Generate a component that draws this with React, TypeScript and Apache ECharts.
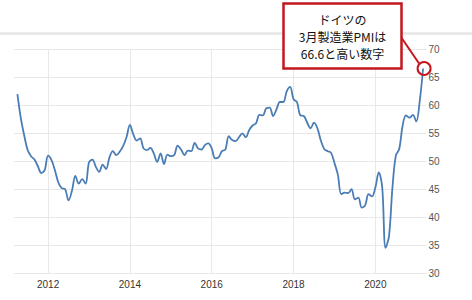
import React, { useEffect, useRef } from 'react';
import * as echarts from 'echarts';

// German manufacturing PMI, monthly, Apr 2011 – Mar 2021
const startYear = 2011;
const startMonth = 4;
const pmi2011 = [62.0, 57.7, 54.6, 52.0, 50.9, 50.3, 49.1, 47.9, 48.4];
const pmi2012 = [51.0, 50.2, 48.4, 46.2, 45.2, 45.0, 43.0, 44.7, 47.4, 46.0, 46.8, 46.0];
const pmi2013 = [49.8, 50.3, 49.0, 48.1, 49.4, 48.6, 50.7, 51.8, 51.1, 51.7, 52.7, 54.3];
const pmi2014 = [56.5, 54.8, 53.7, 54.1, 52.3, 52.0, 52.4, 51.4, 49.9, 51.4, 49.5, 51.2];
const pmi2015 = [50.9, 51.1, 52.8, 52.1, 51.1, 51.9, 51.8, 53.3, 52.3, 52.1, 52.9, 53.2];
const pmi2016 = [52.3, 50.5, 50.7, 51.8, 52.1, 54.5, 53.8, 53.6, 54.3, 55.0, 54.3, 55.6];
const pmi2017 = [56.4, 56.8, 58.3, 58.2, 59.5, 59.6, 58.1, 59.3, 60.6, 60.6, 62.5, 63.3];
const pmi2018 = [61.1, 60.6, 58.2, 58.1, 56.9, 55.9, 56.9, 55.9, 53.7, 52.2, 51.8, 51.5];
const pmi2019 = [49.7, 47.6, 44.1, 44.4, 44.3, 45.0, 43.2, 43.5, 41.7, 42.1, 44.1, 43.7];
const pmi2020 = [45.3, 48.0, 45.4, 34.5, 36.6, 45.2, 51.0, 52.2, 56.4, 58.2, 57.8, 58.3];
const pmi2021 = [57.1, 60.7, 66.6];

const labelYears = ['2012', '2014', '2016', '2018', '2020'];
const yMin = 30;
const yMax = 70;
const yStep = 5;
const annotationLines = ['ドイツの', '3月製造業PMIは', '66.6と高い数字'];

const values: (number | null)[] = [
  ...pmi2011, ...pmi2012, ...pmi2013, ...pmi2014, ...pmi2015, ...pmi2016,
  ...pmi2017, ...pmi2018, ...pmi2019, ...pmi2020, ...pmi2021,
];

function monthKey(offset: number) {
  const total = startYear * 12 + (startMonth - 1) + offset;
  const y = Math.floor(total / 12);
  const m = (total % 12) + 1;
  return `${y}-${m < 10 ? '0' + m : m}`;
}

// one padding month on each side (empty)
const categories: string[] = [];
const seriesData: (number | null)[] = [];
for (let i = -1; i <= values.length; i++) {
  categories.push(monthKey(i));
  seriesData.push(i >= 0 && i < values.length ? values[i] : null);
}

const isYearTick = (value: string) => {
  const [y, m] = value.split('-');
  return m === '01' && labelYears.indexOf(y) >= 0;
};

export default function App() {
  const ref = useRef<HTMLDivElement>(null);
  useEffect(() => {
    if (!ref.current) return;
    const chart = echarts.init(ref.current, undefined, { renderer: 'svg' });
    const axisFont = "'Liberation Sans Narrow', 'Liberation Sans', Arial, sans-serif";
    chart.setOption({
      animation: false,
      backgroundColor: '#ffffff',
      grid: { left: 14, right: 45.5, top: 49.5, bottom: 27, containLabel: false },
      xAxis: {
        type: 'category',
        data: categories,
        boundaryGap: false,
        axisLine: { show: false },
        axisTick: { show: false },
        axisLabel: {
          interval: (_i: number, v: string) => isYearTick(v),
          formatter: (v: string) => v.split('-')[0],
          color: '#333',
          fontSize: 10,
          fontFamily: axisFont,
          margin: 6,
        },
        splitLine: {
          show: true,
          interval: (_i: number, v: string) => isYearTick(v),
          lineStyle: { color: '#e8e8e8', width: 1 },
        },
      },
      yAxis: {
        type: 'value',
        position: 'right',
        min: yMin,
        max: yMax,
        interval: yStep,
        axisLine: { show: false },
        axisTick: { show: false },
        axisLabel: { color: '#555', fontSize: 10, fontFamily: axisFont, margin: 2 },
        splitLine: { lineStyle: { color: '#e8e8e8', width: 1 } },
      },
      series: [
        {
          type: 'line',
          data: seriesData,
          smooth: 0.35,
          showSymbol: false,
          connectNulls: false,
          lineStyle: { color: '#4a7db5', width: 1.8 },
        },
      ],
    });

    const lastIdx = values.length; // index in categories (after padding)
    const pt = chart.convertToPixel({ seriesIndex: 0 }, [lastIdx, values[values.length - 1] as number]) as number[];
    const red = '#c4161c';
    chart.setOption({
      graphic: [
        {
          type: 'line',
          z: 1,
          shape: { x1: 0, y1: 33.5, x2: 472, y2: 33.5 },
          style: { stroke: '#e6e6e6', lineWidth: 2.5 },
        },
        {
          type: 'line',
          z: 10,
          shape: { x1: 401, y1: 37, x2: pt[0] - 4, y2: pt[1] - 5 },
          style: { stroke: red, lineWidth: 2 },
        },
        {
          type: 'circle',
          z: 11,
          shape: { cx: pt[0] + 1, cy: pt[1], r: 6.5 },
          style: { fill: 'none', stroke: red, lineWidth: 2 },
        },
        {
          type: 'rect',
          z: 12,
          shape: { x: 283.5, y: 3.5, width: 118, height: 65 },
          style: { fill: '#ffffff', stroke: red, lineWidth: 2.5 },
        },
        {
          type: 'text',
          z: 13,
          x: 342.5,
          y: 36.5,
          style: {
            text: annotationLines.join('\n'),
            textAlign: 'center',
            textVerticalAlign: 'middle',
            fill: '#111',
            fontSize: 12,
            lineHeight: 17,
            fontFamily: "'Noto Sans CJK JP', sans-serif",
          },
        },
      ],
    });
    return () => chart.dispose();
  }, []);
  return (
    <div
      ref={ref}
      style={{ position: 'fixed', left: 0, top: 0, width: 472, height: 300 }}
    />
  );
}
